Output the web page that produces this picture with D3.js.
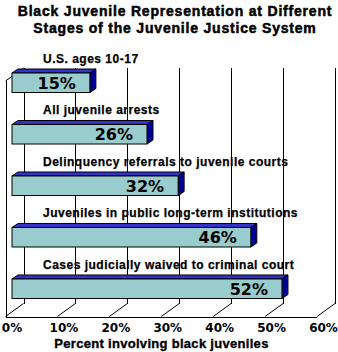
<!DOCTYPE html>
<html>
<head>
<meta charset="utf-8">
<script src="https://cdn.jsdelivr.net/npm/d3@7"></script>
<style>
  html, body { margin: 0; padding: 0; background: #fff; }
  svg { display: block; }
</style>
</head>
<body>
<svg id="chart" width="338" height="352"></svg>
<script>
// ---- data ----
const categories = [
  "U.S. ages 10-17",
  "All juvenile arrests",
  "Delinquency referrals to juvenile courts",
  "Juveniles in public long-term institutions",
  "Cases judicially waived to criminal court"
];
const values = [15, 26, 32, 46, 52];
const tickValues = [0, 10, 20, 30, 40, 50, 60];
const titleLines = [
  "Black Juvenile Representation at Different",
  "Stages of the Juvenile Justice System"
];
const xAxisTitle = "Percent involving black juveniles";

// ---- layout ----
const W = 338, H = 352;
const backTop = 68, backBottom = 303.5;
const depthX = -18, depthY = 13;           // floor depth (back -> front)
const barFrontDX = -11.5;                  // bar front face relative to back wall
const barDepthX = 6, barDepthY = -4;       // bar visual depth

const svg = d3.select("#chart");
svg.append("rect").attr("width", W).attr("height", H).attr("fill", "#fff");

const x = d3.scaleLinear().domain([0, 60]).range([23.5, 335]);
const y = d3.scaleBand().domain(categories).range([73, 298.5]).paddingInner(0.621).paddingOuter(0);

const heavy = "'DejaVu Sans', sans-serif";
const arial = "'Liberation Sans', Arial, sans-serif";

// title
svg.append("g").selectAll("text").data(titleLines).join("text")
  .attr("x", 175).attr("y", (d, i) => 16 + i * 17)
  .attr("text-anchor", "middle")
  .attr("font-family", arial).attr("font-weight", "bold").attr("font-size", 14)
  .attr("letter-spacing", 0.8)
  .attr("stroke", "#000").attr("stroke-width", 0.5)
  .text(d => d);

// grid: back verticals
const grid = svg.append("g").attr("stroke", "#000").attr("stroke-width", 1).attr("shape-rendering", "crispEdges");
grid.selectAll("line.v").data(tickValues).join("line").attr("class", "v")
  .attr("x1", d => Math.round(x(d)) + 0.5).attr("x2", d => Math.round(x(d)) + 0.5)
  .attr("y1", backTop).attr("y2", backBottom);
// floor diagonals
const diag = svg.append("g").attr("stroke", "#000").attr("stroke-width", 1);
diag.selectAll("line").data(tickValues).join("line")
  .attr("x1", d => x(d)).attr("y1", backBottom)
  .attr("x2", d => x(d) + depthX).attr("y2", backBottom + depthY);
// left wall top diagonal
diag.append("line")
  .attr("x1", x(0)).attr("y1", backTop)
  .attr("x2", x(0) + depthX).attr("y2", backTop + depthY);
// left wall vertical + floor front edge
grid.append("line")
  .attr("x1", Math.round(x(0) + depthX) + 0.5).attr("x2", Math.round(x(0) + depthX) + 0.5)
  .attr("y1", backTop + depthY).attr("y2", backBottom + depthY);
grid.append("line")
  .attr("x1", x(0) + depthX).attr("x2", x(60) + depthX)
  .attr("y1", Math.round(backBottom + depthY) + 0.5).attr("y2", Math.round(backBottom + depthY) + 0.5);

// bars
const bars = svg.append("g").selectAll("g").data(values.map((v, i) => ({ v, c: categories[i] }))).join("g");
const bx0 = x(0) + barFrontDX;
bars.append("path") // top face
  .attr("d", d => {
    const x1 = x(d.v) + barFrontDX, yt = y(d.c);
    return `M${bx0},${yt}L${bx0 + barDepthX},${yt + barDepthY}L${x1 + barDepthX},${yt + barDepthY}L${x1},${yt}Z`;
  })
  .attr("fill", "#3333cc").attr("stroke", "#000").attr("stroke-width", 1).attr("stroke-linejoin", "round");
bars.append("path") // side face
  .attr("d", d => {
    const x1 = x(d.v) + barFrontDX, yt = y(d.c), yb = yt + y.bandwidth();
    return `M${x1},${yt}L${x1 + barDepthX},${yt + barDepthY}L${x1 + barDepthX},${yb + barDepthY}L${x1},${yb}Z`;
  })
  .attr("fill", "#000099").attr("stroke", "#000").attr("stroke-width", 1).attr("stroke-linejoin", "round");
bars.append("rect") // front face
  .attr("x", bx0).attr("y", d => y(d.c))
  .attr("width", d => x(d.v) - x(0)).attr("height", y.bandwidth())
  .attr("fill", "#99cccc").attr("stroke", "#000").attr("stroke-width", 1);
bars.append("text")
  .attr("x", d => x(d.v) + barFrontDX - 14)
  .attr("y", d => y(d.c) + y.bandwidth() / 2 + 6)
  .attr("text-anchor", "end")
  .attr("font-family", heavy).attr("font-weight", "bold").attr("font-size", 16)
  .text(d => d.v + "%");

// category labels
svg.append("g").selectAll("text").data(categories).join("text")
  .attr("x", 43).attr("y", d => y(d) - 10)
  .attr("font-family", arial).attr("font-weight", "bold").attr("font-size", 12)
  .attr("letter-spacing", 0.5)
  .attr("stroke", "#000").attr("stroke-width", 0.25)
  .text(d => d);

// x axis labels via d3 axis
const xAxis = d3.axisBottom(x).tickValues(tickValues).tickFormat(d => d + "%").tickSize(0).tickPadding(0);
const ax = svg.append("g").attr("transform", `translate(${depthX + 6},323)`).call(xAxis);
ax.select(".domain").remove();
ax.selectAll("text")
  .attr("font-family", heavy).attr("font-weight", "bold").attr("font-size", 12).attr("fill", "#000")
  .attr("dy", "0.71em");

// x axis title
svg.append("text")
  .attr("x", 161.5).attr("y", 348)
  .attr("text-anchor", "middle")
  .attr("font-family", arial).attr("font-weight", "bold").attr("font-size", 13)
  .attr("letter-spacing", 0.3)
  .attr("stroke", "#000").attr("stroke-width", 0.35)
  .text(xAxisTitle);
</script>
</body>
</html>
